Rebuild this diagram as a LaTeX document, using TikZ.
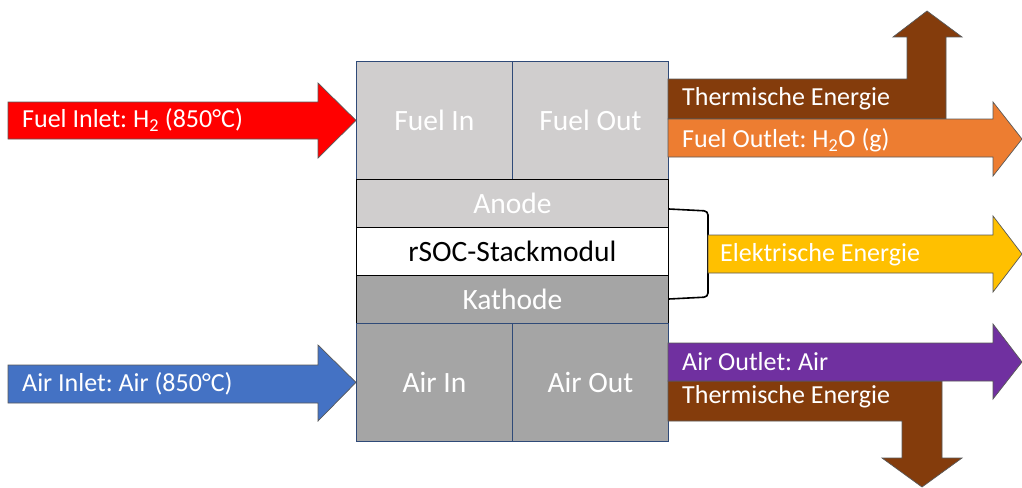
\documentclass[tikz,border=0pt]{standalone}
\usepackage{fontspec}
\setmainfont{Carlito}
\frenchspacing
\definecolor{fuelred}{HTML}{FF0000}
\definecolor{airblue}{HTML}{4472C4}
\definecolor{outorange}{HTML}{ED7D31}
\definecolor{heatbrown}{HTML}{843C0C}
\definecolor{airpurple}{HTML}{7030A0}
\definecolor{elyellow}{HTML}{FFC000}
\definecolor{lightcell}{HTML}{D0CECE}
\definecolor{darkcell}{HTML}{A5A5A5}
\definecolor{cellline}{HTML}{2F4A78}
\begin{document}
\begin{tikzpicture}[x=1pt,y=-1pt,
  blockarrow/.style={draw=black!65,line width=0.7pt,line join=miter},
  gascell/.style={draw=cellline,line width=0.8pt,inner sep=0pt,anchor=north west,
    minimum width=156pt,minimum height=118pt,text=white,
    font=\fontsize{29.5}{32}\selectfont},
  layer/.style={draw=black,line width=0.8pt,inner sep=0pt,anchor=north west,
    minimum width=312pt,minimum height=48pt,
    font=\fontsize{29.5}{32}\selectfont},
  arrowtext/.style={anchor=west,inner sep=0pt,text=white,
    font=\fontsize{26}{30}\selectfont}]
\useasboundingbox (0,0) rectangle (1022,487);

% stack module: gas chambers and cell layers
\node[gascell,fill=lightcell] (fuelin)  at (356,61)  {Fuel In};
\node[gascell,fill=lightcell] (fuelout) at (512,61)  {Fuel Out};
\node[layer,fill=lightcell,text=white] (anode) at (356,179) {Anode};
\node[layer,fill=white,text=black] (stack) at (356,227) {rSOC-Stackmodul};
\node[layer,fill=darkcell,text=white] (kathode) at (356,275) {Kathode};
\node[gascell,fill=darkcell] (airin)  at (356,323) {Air In};
\node[gascell,fill=darkcell] (airout) at (512,323) {Air Out};

% inlet arrows
\filldraw[blockarrow,fill=fuelred] (8,102) -- (318,102) -- (318,83) -- (fuelin.west)
  -- (318,158) -- (318,139) -- (8,139) -- cycle;
\node[arrowtext] (fuelinlet) at (22,120) {Fuel Inlet: H\textsubscript{2} (850°C)};

\filldraw[blockarrow,fill=airblue] (8,365) -- (318,365) -- (318,345) -- (airin.west)
  -- (318,421) -- (318,403) -- (8,403) -- cycle;
\node[arrowtext] (airinlet) at (22,384) {Air Inlet: Air (850°C)};

% fuel side outlets
\filldraw[blockarrow,fill=heatbrown] (668,79) -- (907,79) -- (907,37) -- (893,37)
  -- (927,11) -- (962,37) -- (946,37) -- (946,119) -- (668,119) -- cycle;
\filldraw[blockarrow,fill=outorange] (668,119) -- (993,119) -- (993,102) -- (1022,139)
  -- (993,176) -- (993,157) -- (668,157) -- cycle;
\node[arrowtext] (heattop) at (682,99) {Thermische Energie};
\node[arrowtext] (fueloutlet) at (682,140) {Fuel Outlet: H\textsubscript{2}O (g)};

% electrical output
\draw[line width=1.6pt,rounded corners=4pt] (anode.east |- 0,209) -- (708,211)
  -- (708,297) -- (kathode.east |- 0,299);
\filldraw[blockarrow,fill=elyellow] (708,235) -- (993,235) -- (993,216) -- (1022,254)
  -- (993,292) -- (993,273) -- (708,273) -- cycle;
\node[arrowtext] (elec) at (720,255) {Elektrische Energie};

% air side outlets
\filldraw[blockarrow,fill=heatbrown] (668,381) -- (942,381) -- (942,458) -- (962,458)
  -- (922,487) -- (882,458) -- (902,458) -- (902,421) -- (668,421) -- cycle;
\filldraw[blockarrow,fill=airpurple] (668,343) -- (993,343) -- (993,324) -- (1022,362)
  -- (993,399) -- (993,381) -- (668,381) -- cycle;
\node[arrowtext] (airoutlet) at (682,362) {Air Outlet: Air};
\node[arrowtext] (heatbottom) at (682,397) {Thermische Energie};
\end{tikzpicture}
\end{document}
